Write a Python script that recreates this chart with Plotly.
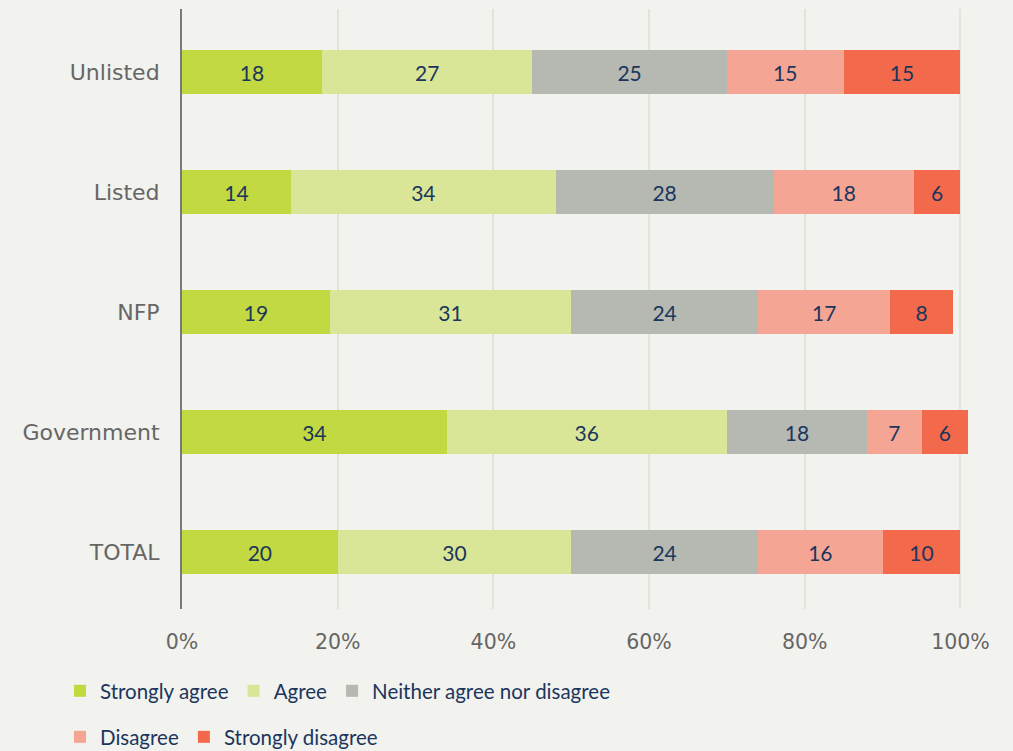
import plotly.graph_objects as go

# Survey responses by organisation type (percent of respondents)
categories = ["TOTAL", "Government", "NFP", "Listed", "Unlisted"]
responses = ["Strongly agree", "Agree", "Neither agree nor disagree",
             "Disagree", "Strongly disagree"]

strongly_agree = [20, 34, 19, 14, 18]
agree = [30, 36, 31, 34, 27]
neither = [24, 18, 24, 28, 25]
disagree = [16, 7, 17, 18, 15]
strongly_disagree = [10, 6, 8, 6, 15]

x_ticks = [0, 20, 40, 60, 80, 100]
x_tick_labels = ["0%", "20%", "40%", "60%", "80%", "100%"]

series = [strongly_agree, agree, neither, disagree, strongly_disagree]
colors = ["#c3d942", "#d9e697", "#b6b8b2", "#f5a594", "#f2694b"]
legend_ids = ["legend", "legend", "legend", "legend2", "legend2"]

FONT = "Lato, 'Open Sans', sans-serif"
AXIS_FONT = "'DejaVu Sans', sans-serif"
NAVY = "#1b365d"
GREY_TEXT = "#666666"
BG = "#f2f2ee"

fig = go.Figure()
for name, vals, col, lg in zip(responses, series, colors, legend_ids):
    fig.add_trace(go.Bar(
        name=name,
        y=categories,
        x=vals,
        orientation="h",
        marker=dict(color=col, line=dict(width=0)),
        width=0.37,
        text=[str(v) for v in vals],
        texttemplate="%{text}",
        textposition="inside",
        insidetextanchor="middle",
        textangle=0,
        constraintext="none",
        textfont=dict(family=FONT, size=21, color=NAVY),
        legend=lg,
        hoverinfo="skip",
    ))

legend_common = dict(
    orientation="h",
    xref="container", yref="container",
    xanchor="left", yanchor="middle",
    bgcolor="rgba(0,0,0,0)",
    font=dict(family=FONT, size=20.5, color=NAVY),
    traceorder="normal",
    itemclick=False, itemdoubleclick=False,
)

fig.update_layout(
    barmode="stack",
    width=1013, height=751,
    margin=dict(l=182, r=37, t=9, b=142),
    paper_bgcolor=BG,
    plot_bgcolor=BG,
    font=dict(family=FONT, size=20, color=GREY_TEXT),
    xaxis=dict(
        range=[0, 102],
        tickvals=x_ticks,
        ticktext=x_tick_labels,
        showgrid=True,
        gridcolor="#e3e3de",
        gridwidth=1.5,
        zeroline=False,
        showline=False,
        ticks="",
        ticklabelstandoff=18,
        tickfont=dict(family=AXIS_FONT, size=20.5, color=GREY_TEXT),
        fixedrange=True,
    ),
    yaxis=dict(
        type="category",
        categoryorder="array",
        categoryarray=categories,
        range=[-0.475, 4.525],
        showgrid=False,
        zeroline=False,
        showline=True,
        linecolor="#7a7a7a",
        linewidth=2,
        ticks="",
        ticklabelstandoff=16,
        tickfont=dict(family=AXIS_FONT, size=22, color=GREY_TEXT),
        fixedrange=True,
    ),
    legend=dict(x=60 / 1013, y=1 - 691 / 751, **legend_common),
    legend2=dict(x=60 / 1013, y=1 - 737 / 751, **legend_common),
)

fig.write_html("out.html")
